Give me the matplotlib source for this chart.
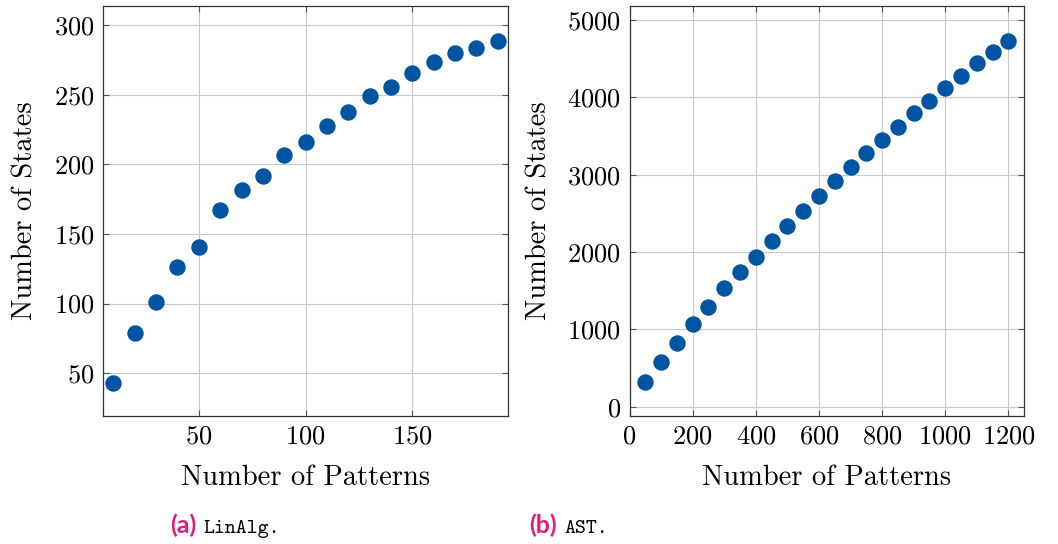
import matplotlib
matplotlib.use("Agg")
import matplotlib.pyplot as plt

plt.rcParams['font.family'] = 'cmr10'
plt.rcParams['axes.formatter.use_mathtext'] = True
plt.rcParams['mathtext.fontset'] = 'cm'

# LinAlg: patterns vs states
linalg_patterns = [10, 20, 30, 40, 50, 60, 70, 80, 90, 100,
                   110, 120, 130, 140, 150, 160, 170, 180, 190]
linalg_states = [43, 79, 101, 126, 141, 167, 182, 192, 207, 216,
                 228, 238, 249, 256, 266, 274, 280, 284, 289]

# AST: patterns vs states
ast_patterns = [50, 100, 150, 200, 250, 300, 350, 400, 450, 500, 550, 600,
                650, 700, 750, 800, 850, 900, 950, 1000, 1050, 1100, 1150, 1200]
ast_states = [315, 578, 823, 1073, 1289, 1534, 1737, 1935, 2138, 2341, 2526, 2728,
              2922, 3095, 3276, 3453, 3621, 3797, 3953, 4125, 4280, 4440, 4582, 4728]

blue = '#0055a2'
pink = '#e6197d'

fig = plt.figure(figsize=(10.58, 5.44), dpi=100)
ax1 = fig.add_axes([0.0971, 0.235, 0.3834, 0.754])
ax2 = fig.add_axes([0.595, 0.235, 0.373, 0.754])


def style(ax):
    ax.grid(True, color='#c8c8c8', linewidth=0.8)
    ax.set_axisbelow(True)
    ax.tick_params(direction='in', top=True, right=True, length=4,
                   color='#555555', labelsize=19, pad=6)
    for s in ax.spines.values():
        s.set_linewidth(0.9)
        s.set_color('#333333')
    ax.set_xlabel('Number of Patterns', fontsize=20.5, labelpad=12)
    ax.set_ylabel('Number of States', fontsize=20.5, labelpad=11)


ax1.scatter(linalg_patterns, linalg_states, s=140, color=blue, zorder=3, linewidths=0)
ax1.set_xlim(5, 195)
ax1.set_ylim(19, 314)
ax1.set_xticks([50, 100, 150])
ax1.set_yticks([50, 100, 150, 200, 250, 300])
style(ax1)

ax2.scatter(ast_patterns, ast_states, s=140, color=blue, zorder=3, linewidths=0)
ax2.set_xlim(0, 1250)
ax2.set_ylim(-121, 5181)
ax2.set_xticks([0, 200, 400, 600, 800, 1000, 1200])
ax2.set_yticks([0, 1000, 2000, 3000, 4000, 5000])
style(ax2)

# captions
cap_y = 0.02
for x, tag, name in [(0.1853, '(a)', 'LinAlg.'), (0.5265, '(b)', 'AST.')]:
    fig.text(x, cap_y, tag, color=pink, fontsize=18, fontweight='bold',
             family='Lato', ha='right', va='baseline')
    fig.text(x + 0.0066, cap_y, name, color='black', fontsize=15,
             family='cmtt10', ha='left', va='baseline')

fig.savefig('out.png', dpi=100)
